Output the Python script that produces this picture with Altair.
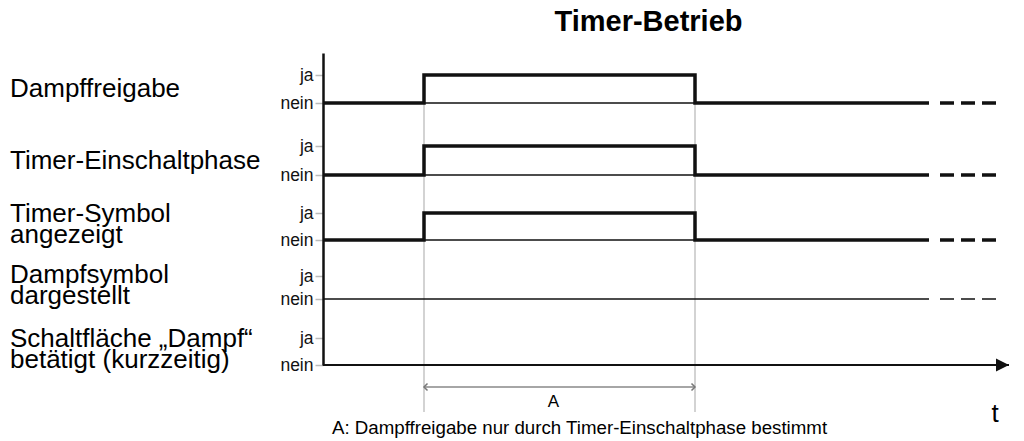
import altair as alt
import pandas as pd

# ---------------- data ----------------
row_labels = [
    "Dampffreigabe",
    "Timer-Einschaltphase",
    "Timer-Symbol\nangezeigt",
    "Dampfsymbol\ndargestellt",
    "Schaltfläche \u201eDampf\u201c\nbetätigt (kurzzeitig)",
]
nein_levels = [26.2, 19.0, 12.5, 6.6, 0.0]
ja_levels = [29.0, 21.9, 15.2, 8.9, 2.7]

t_on = 1.01
t_off = 3.72
t_end = 6.06
edge_times = [0.0, t_on, t_on, t_off, t_off, t_end]
row_states = [
    [0, 0, 1, 1, 0, 0],
    [0, 0, 1, 1, 0, 0],
    [0, 0, 1, 1, 0, 0],
    [0, 0, 0, 0, 0, 0],
]
dash_span = [6.17, 6.73]
time_axis_end = 6.86

title_text = "Timer-Betrieb"
interval_label = "A"
caption_text = "A: Dampffreigabe nur durch Timer-Einschaltphase bestimmt"
time_label = "t"

# ---------------- tables ----------------
sig = []
for r, states in enumerate(row_states):
    for i, (t, s) in enumerate(zip(edge_times, states)):
        lvl = nein_levels[r] + s * (ja_levels[r] - nein_levels[r])
        sig.append({"row": r, "i": i, "t": t, "y": lvl, "thick": r < 3})
sig_df = pd.DataFrame(sig)

base_df = pd.DataFrame(
    [{"row": r, "t": 0.0, "t2": t_end, "y": nein_levels[r]} for r in range(4)]
)
dash_df = pd.DataFrame(
    [{"row": r, "t": dash_span[0], "t2": dash_span[1], "y": nein_levels[r], "thick": r < 3}
     for r in range(4)]
)
LINE_SHIFT = 1.3  # raise multi-line labels so the block is centred on the lane
label_df = pd.DataFrame(
    [{"label": lab, "t": -3.13,
      "y": (nein_levels[r] + ja_levels[r]) / 2 + LINE_SHIFT * lab.count("\n")}
     for r, lab in enumerate(row_labels)]
)
guide_df = pd.DataFrame([{"t": t_on, "y": ja_levels[0], "y2": -4.7},
                         {"t": t_off, "y": ja_levels[0], "y2": -4.7}])
dim_df = pd.DataFrame([{"t": t_on, "t2": t_off, "y": -2.2}])
chev_df = pd.DataFrame([{"t": t_on, "y": -2.2, "side": "l"},
                        {"t": t_off, "y": -2.2, "side": "r"}])
axis_df = pd.DataFrame([{"t": 0.0, "t2": time_axis_end, "y": 0.0}])
arrow_df = pd.DataFrame([{"t": time_axis_end - 0.065, "y": 0.0}])
texts_df = pd.DataFrame([{"txt": title_text, "t": 3.255, "y": 33.4}])

FONT = "Liberation Sans"
xs = alt.Scale(domain=[0, 6.93])
ys = alt.Scale(domain=[0, 31.2])

ja_list = ",".join(str(v) for v in ja_levels)
tick_vals = sorted(nein_levels + ja_levels)

y_axis = alt.Axis(
    values=tick_vals,
    labelExpr=f"indexof([{ja_list}], datum.value) >= 0 ? 'ja\u2002' : 'nein'",
    grid=False,
    domainColor="#111",
    domainWidth=2.5,
    tickColor="#bbbbbb",
    tickWidth=1.5,
    tickSize=8,
    labelFont=FONT,
    labelFontSize=17.5,
    labelColor="#111",
    labelPadding=2,
    title=None,
)


def X(f="t"):
    return alt.X(f"{f}:Q", scale=xs, axis=None)


def Y(f="y"):
    return alt.Y(f"{f}:Q", scale=ys, axis=y_axis, title=None)


guides = alt.Chart(guide_df).mark_rule(color="#c4c4c4", strokeWidth=1.5).encode(
    x=X(), y=Y(), y2="y2:Q"
)

baselines = alt.Chart(base_df).mark_rule(color="#111", strokeWidth=1.7).encode(
    x=X(), x2="t2:Q", y=Y()
)

thick_sig = alt.Chart(sig_df).transform_filter("datum.thick").mark_line(
    color="#111", strokeWidth=3.5, strokeJoin="miter"
).encode(x=X(), y=Y(), detail="row:N", order="i:Q")

dash_thick = alt.Chart(dash_df).transform_filter("datum.thick").mark_rule(
    color="#111", strokeWidth=3.5, strokeDash=[14, 7]
).encode(x=X(), x2="t2:Q", y=Y())

dash_thin = alt.Chart(dash_df).transform_filter("!datum.thick").mark_rule(
    color="#111", strokeWidth=1.7, strokeDash=[14, 7]
).encode(x=X(), x2="t2:Q", y=Y())

time_axis = alt.Chart(axis_df).mark_rule(color="#111", strokeWidth=2).encode(
    x=X(), x2="t2:Q", y=Y()
)
arrow = alt.Chart(arrow_df).mark_point(
    shape="M-1,-1L1,0L-1,1Z", size=169, filled=True, color="#111", opacity=1
).encode(x=X(), y=Y())

dim_line = alt.Chart(dim_df).mark_rule(color="#888", strokeWidth=1.5).encode(
    x=X(), x2="t2:Q", y=Y()
)
chev_l = alt.Chart(chev_df).transform_filter("datum.side == 'l'").mark_point(
    shape="M1,-1L0,0L1,1", size=49, filled=False, color="#777", strokeWidth=1.5, opacity=1
).encode(x=X(), y=Y())
chev_r = alt.Chart(chev_df).transform_filter("datum.side == 'r'").mark_point(
    shape="M-1,-1L0,0L-1,1", size=49, filled=False, color="#777", strokeWidth=1.5, opacity=1
).encode(x=X(), y=Y())

labels = alt.Chart(label_df).mark_text(
    align="left", baseline="middle", font=FONT, fontSize=26, lineBreak="\n",
    lineHeight=21, color="#000"
).encode(x=X(), y=Y(), text="label:N")

title = alt.Chart(texts_df).mark_text(
    align="center", baseline="alphabetic", font=FONT, fontSize=29,
    fontWeight="bold", color="#000"
).encode(x=X(), y=Y(), text="txt:N")

a_label = alt.Chart(pd.DataFrame([{"txt": interval_label, "t": (t_on + t_off) / 2, "y": -4.2}])).mark_text(
    align="center", baseline="alphabetic", font=FONT, fontSize=17, dx=-6, color="#000"
).encode(x=X(), y=Y(), text="txt:N")

caption = alt.Chart(pd.DataFrame([{"txt": caption_text, "t": 0.09, "y": -6.9}])).mark_text(
    align="left", baseline="alphabetic", font=FONT, fontSize=18.7, color="#000"
).encode(x=X(), y=Y(), text="txt:N")

t_lab = alt.Chart(pd.DataFrame([{"txt": time_label, "t": 6.72, "y": -5.7}])).mark_text(
    align="center", baseline="alphabetic", font=FONT, fontSize=26, color="#000"
).encode(x=X(), y=Y(), text="txt:N")

chart = alt.layer(
    guides, baselines, thick_sig, dash_thick, dash_thin,
    dim_line, chev_l, chev_r, time_axis, arrow,
    labels, title, a_label, caption, t_lab,
).properties(
    width=693,
    height=312,
    padding={"left": 315, "top": 45, "right": 0, "bottom": 73},
    autosize=alt.AutoSizeParams(type="none"),
    background="white",
).configure_view(stroke=None)

chart.save("out.html", embed_options={"renderer": "svg", "actions": False})
